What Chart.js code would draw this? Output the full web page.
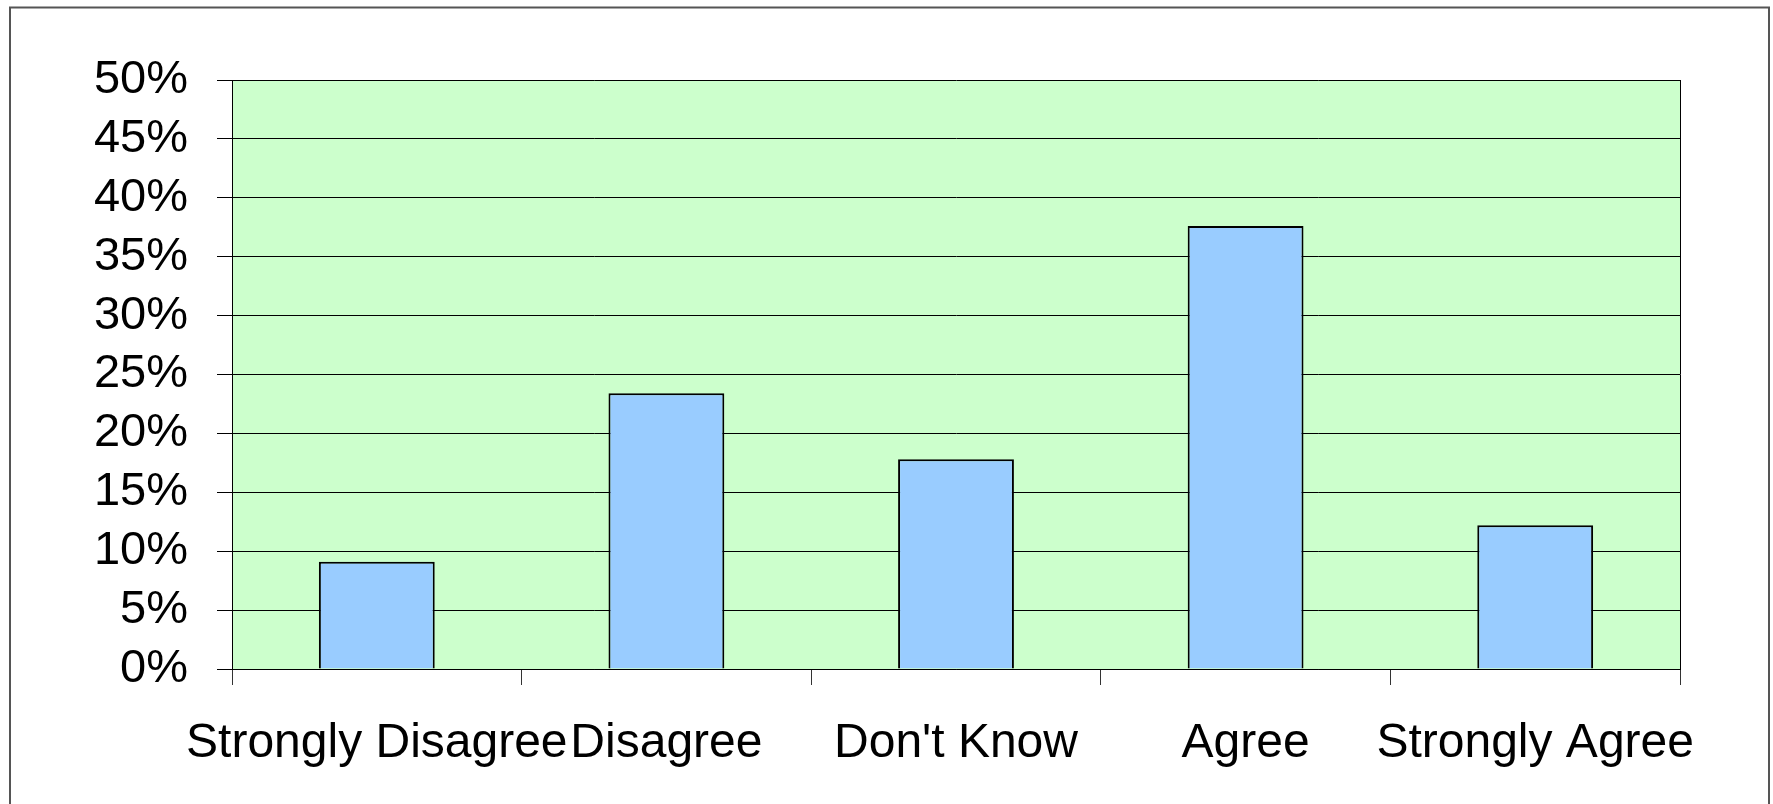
<!DOCTYPE html>
<html>
<head>
<meta charset="utf-8">
<script src="https://cdn.jsdelivr.net/npm/chart.js@4/dist/chart.umd.min.js"></script>
<style>
  html, body { margin: 0; padding: 0; background: #ffffff; }
  #wrap { width: 1773px; height: 804px; position: relative; }
</style>
</head>
<body>
<div id="wrap"><canvas id="chart" width="1773" height="804"></canvas></div>
<script>
// Survey responses: share of answers per option
const categories = ['Strongly Disagree', 'Disagree', "Don't Know", 'Agree', 'Strongly Agree'];
const shares = [0.091, 0.234, 0.178, 0.376, 0.122];
const yTickStep = 0.05;
const yMax = 0.5;

const FONT = '"Liberation Sans", Arial, sans-serif';

// Pale green plot background, drawn under grid and bars
const plotBackground = {
  id: 'plotBackground',
  beforeDraw(chart) {
    const { ctx, chartArea: a } = chart;
    ctx.save();
    ctx.fillStyle = '#CCFFCC';
    ctx.fillRect(a.left, a.top, a.right - a.left, a.bottom - a.top);
    ctx.restore();
  }
};

// Frame around the plot area and the outer chart border
const frames = {
  id: 'frames',
  afterDraw(chart) {
    const { ctx, chartArea: a } = chart;
    ctx.save();
    ctx.strokeStyle = '#000000';
    ctx.lineWidth = 1;
    ctx.beginPath();
    ctx.moveTo(a.right + 0.5, a.top);
    ctx.lineTo(a.right + 0.5, a.bottom);
    ctx.stroke();
    ctx.strokeStyle = '#555555';
    ctx.lineWidth = 2;
    ctx.strokeRect(10, 7.5, 1759, 820);
    ctx.restore();
  }
};

new Chart(document.getElementById('chart'), {
  type: 'bar',
  data: {
    labels: categories,
    datasets: [{
      data: shares,
      backgroundColor: '#99CCFF',
      borderColor: '#000000',
      borderWidth: 2,
      categoryPercentage: 1,
      barPercentage: 0.4
    }]
  },
  options: {
    responsive: false,
    animation: false,
    devicePixelRatio: 1,
    layout: { padding: { top: 80, right: 93, bottom: 0, left: 0 } },
    plugins: {
      legend: { display: false },
      tooltip: { enabled: false }
    },
    scales: {
      x: {
        grid: {
          offset: true,
          drawOnChartArea: false,
          drawTicks: true,
          tickLength: 16,
          color: '#333333',
          lineWidth: 1
        },
        border: { display: true, color: '#000000', width: 1 },
        ticks: {
          color: '#000000',
          padding: 30,
          maxRotation: 0,
          autoSkip: false,
          font: { family: FONT, size: 48 }
        },
        afterFit(scale) { scale.height = 135; }
      },
      y: {
        min: 0,
        max: yMax,
        grid: {
          color: '#000000',
          lineWidth: 1,
          tickLength: 15
        },
        border: { display: true, color: '#000000', width: 1 },
        ticks: {
          stepSize: yTickStep,
          autoSkip: false,
          color: '#000000',
          padding: 29,
          font: { family: FONT, size: 47 },
          callback: (v) => Math.round(v * 100) + '%'
        },
        afterFit(scale) { scale.width = 232; }
      }
    }
  },
  plugins: [plotBackground, frames]
});
</script>
</body>
</html>
